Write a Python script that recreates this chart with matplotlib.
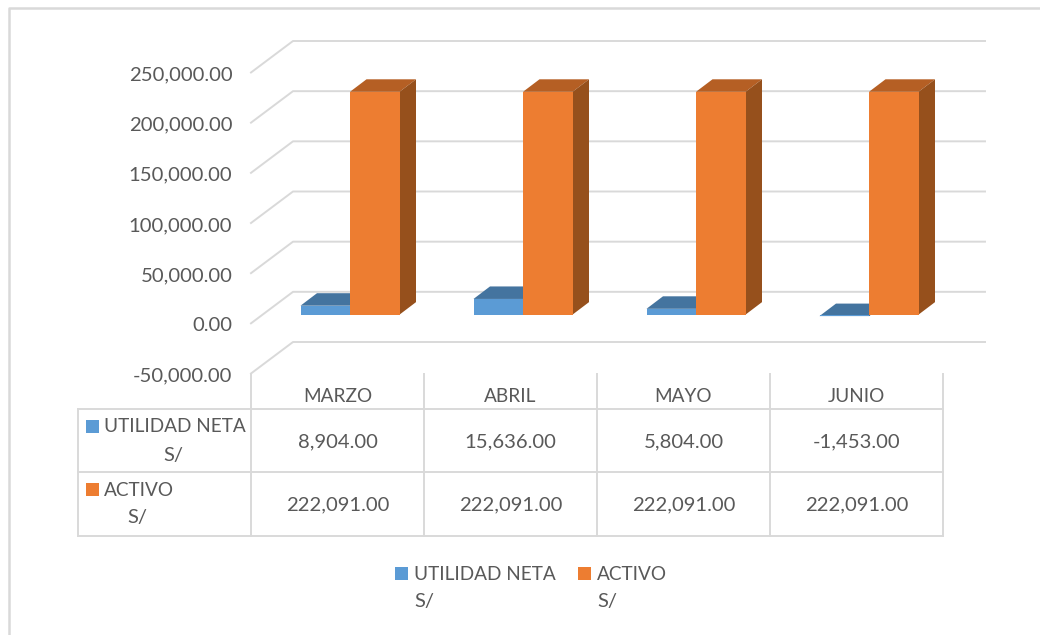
# Modules
import matplotlib
matplotlib.use('Agg')
import matplotlib.pyplot as plt
from matplotlib.transforms import Affine2D
#--------------------------------------------------------------

months = ['MARZO', 'ABRIL', 'MAYO', 'JUNIO']
utilidad = [8904.00, 15636.00, 5804.00, -1453.00]
activo = [222091.00, 222091.00, 222091.00, 222091.00]
y_ticks = [-50000, 0, 50000, 100000, 150000, 200000, 250000]

W, H = 1040, 635
GREY = '#595959'
LINE = '#D9D9D9'
FONT = 'Lato'
FS = 13.7
FS_NUM = 14.6

fig = plt.figure(figsize=(W / 100, H / 100), dpi=100)
# pixel coords measured from the top left, for the table and the frame
px = Affine2D().scale(1, -1).translate(0, H)

AX_L, AX_R, AX_T, AX_B = 251, 943, 72.5, 373.5
ax = fig.add_axes([AX_L / W, 1 - AX_B / H, (AX_R - AX_L) / W, (AX_B - AX_T) / H])
ax.set_xlim(0, 4)
ax.set_ylim(-50000, 250000)
ax.patch.set_alpha(0)
for s in ax.spines.values():
	s.set_visible(False)

cat_px = (AX_R - AX_L) / 4
val_px = 300000 / (AX_B - AX_T)

#--------------------------------------------------
# back wall
#--------------------------------------------------
wall_dx = 42 / cat_px
wall_dy = 31.5 * val_px
for v in y_ticks:
	ax.plot([0, wall_dx, 4 + wall_dx], [v, v + wall_dy, v + wall_dy], color=LINE, lw=1.4, clip_on=False, zorder=1)

#--------------------------------------------------
# bars
#--------------------------------------------------
bar_w = 49.5 / cat_px
blue_x = 49.5 / cat_px
base = 8.7 * val_px
deep_x = 16.5 / cat_px
deep_y = 12.5 * val_px


def bar3d(x, v, front, top, side, z):
	y = base + v
	ax.fill([x, x + deep_x, x + bar_w + deep_x, x + bar_w], [y, y + deep_y, y + deep_y, y], color=top, lw=0, clip_on=False, zorder=z)
	ax.fill([x + bar_w, x + bar_w + deep_x, x + bar_w + deep_x, x + bar_w], [base, base + deep_y, y + deep_y, y], color=side, lw=0, clip_on=False, zorder=z)
	ax.bar(x, v, width=bar_w, bottom=base, align='edge', color=front, lw=0, clip_on=False, zorder=z + 0.1)


for i in range(len(months)):
	bar3d(i + blue_x, utilidad[i], '#5B9BD5', '#44749F', '#3A6489', 2)
	bar3d(i + blue_x + bar_w, activo[i], '#ED7D31', '#B55F24', '#96501C', 3)

#--------------------------------------------------
# ticks
#--------------------------------------------------
ax.set_yticks(y_ticks)
ax.set_yticklabels(['{:,.2f}'.format(v) for v in y_ticks], family=FONT, fontsize=FS_NUM, color=GREY)
ax.set_xticks([i + 0.5 for i in range(len(months))])
ax.set_xticklabels(months, family=FONT, fontsize=FS, color=GREY)
ax.tick_params(axis='y', length=0, pad=13.5)
ax.tick_params(axis='x', length=0, pad=10.5)
for lab in ax.get_yticklabels():
	lab.set_transform(lab.get_transform() + Affine2D().translate(0, -1))

#--------------------------------------------------
# data table
#--------------------------------------------------
def pxline(xs, ys, color=LINE, lw=1.4):
	fig.add_artist(plt.Line2D(xs, ys, transform=px, color=color, lw=lw, zorder=1))


def pxtext(x, y, s, ha='left', size=FS):
	fig.text(x, y, s, transform=px, ha=ha, va='center', family=FONT, fontsize=size, color=GREY)


def pxkey(x, y, size, color):
	fig.add_artist(plt.Rectangle((x, y), size, size, transform=px, fc=color, ec='none'))


for yy in [409.3, 472.3, 535.7]:
	pxline([77.5, 943], [yy, yy])
pxline([77.5, 77.5], [409.3, 535.7])
for xx in [251, 424, 597, 770, 943]:
	pxline([xx, xx], [374, 535.7])

pxkey(86, 420, 12.5, '#5B9BD5')
pxtext(104, 427, 'UTILIDAD NETA')
pxtext(173, 455, 'S/', ha='center', size=FS_NUM)
pxkey(86, 483, 12.5, '#ED7D31')
pxtext(104, 490, 'ACTIVO')
pxtext(137, 518, 'S/', ha='center', size=FS_NUM)

for i in range(len(months)):
	cx = AX_L + cat_px * (i + 0.5)
	pxtext(cx, 441.5, '{:,.2f}'.format(utilidad[i]), ha='center', size=FS_NUM)
	pxtext(cx, 504.5, '{:,.2f}'.format(activo[i]), ha='center', size=FS_NUM)

#--------------------------------------------------
# legend
#--------------------------------------------------
pxkey(395, 567, 12.5, '#5B9BD5')
pxtext(414, 574, 'UTILIDAD NETA')
pxtext(414, 602, 'S/', size=FS_NUM)
pxkey(578, 567, 12.5, '#ED7D31')
pxtext(597, 574, 'ACTIVO')
pxtext(597, 602, 'S/', size=FS_NUM)

# frame round the chart
pxline([8.5, 8.5, 1040], [635, 8, 8], lw=1.8)

fig.savefig('out.png', dpi=100)
